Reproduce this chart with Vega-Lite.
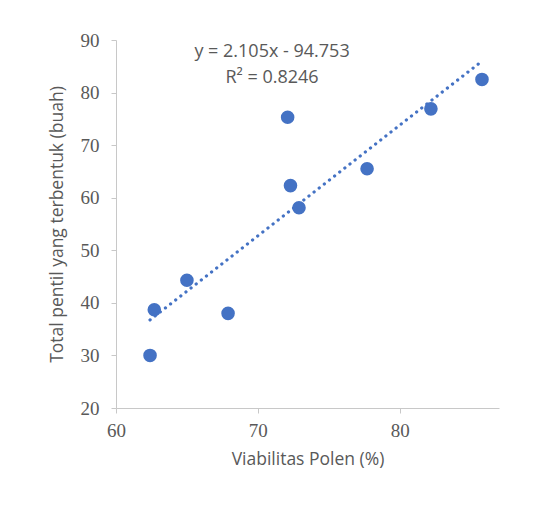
{
  "$schema": "https://vega.github.io/schema/vega-lite/v6.json",
  "width": 383,
  "height": 368,
  "autosize": {"type": "none"},
  "padding": {"left": 116, "top": 40, "right": 36, "bottom": 97},
  "background": "white",
  "config": {
    "view": {"stroke": null},
    "axis": {
      "grid": false,
      "labelFlush": false,
      "domainColor": "#C8C8C8",
      "tickColor": "#C8C8C8",
      "tickSize": 5,
      "labelFont": "Liberation Serif",
      "labelFontSize": 19,
      "labelColor": "#595959",
      "titleFont": "Open Sans",
      "titleFontSize": 17.5,
      "titleFontWeight": "normal",
      "titleColor": "#595959"
    }
  },
  "data": {
    "values": [
      {"viabilitas": 62.4, "pentil": 30.0},
      {"viabilitas": 62.7, "pentil": 38.7},
      {"viabilitas": 65.0, "pentil": 44.3},
      {"viabilitas": 67.9, "pentil": 38.0},
      {"viabilitas": 72.1, "pentil": 75.3},
      {"viabilitas": 72.3, "pentil": 62.3},
      {"viabilitas": 72.9, "pentil": 58.1},
      {"viabilitas": 77.7, "pentil": 65.5},
      {"viabilitas": 82.2, "pentil": 76.9},
      {"viabilitas": 85.8, "pentil": 82.5}
    ]
  },
  "layer": [
    {
      "transform": [{"regression": "pentil", "on": "viabilitas"}],
      "mark": {"type": "line", "color": "#4472C4", "strokeWidth": 3.2, "strokeCap": "round", "strokeDash": [0.1, 6.4]},
      "encoding": {
        "x": {"field": "viabilitas", "type": "quantitative"},
        "y": {"field": "pentil", "type": "quantitative"}
      }
    },
    {
      "mark": {"type": "point", "filled": true, "size": 185, "color": "#4472C4", "opacity": 1},
      "encoding": {
        "x": {
          "field": "viabilitas", "type": "quantitative",
          "scale": {"domain": [60, 87], "nice": false, "zero": false},
          "axis": {"values": [60, 70, 80], "title": "Viabilitas Polen (%)", "labelPadding": 8, "titlePadding": 10}
        },
        "y": {
          "field": "pentil", "type": "quantitative",
          "scale": {"domain": [20, 90], "nice": false, "zero": false},
          "axis": {"values": [20, 30, 40, 50, 60, 70, 80, 90], "title": "Total pentil yang terbentuk (buah)", "labelPadding": 12, "titlePadding": 14}
        }
      }
    },
    {
      "data": {
        "values": [
          {"label": "y = 2.105x - 94.753", "lx": 71.0, "ly": 87.7},
          {"label": "R² = 0.8246", "lx": 71.0, "ly": 82.8}
        ]
      },
      "mark": {"type": "text", "font": "Open Sans", "fontSize": 18, "color": "#595959", "align": "center", "baseline": "middle"},
      "encoding": {
        "x": {"field": "lx", "type": "quantitative"},
        "y": {"field": "ly", "type": "quantitative"},
        "text": {"field": "label"}
      }
    }
  ]
}
